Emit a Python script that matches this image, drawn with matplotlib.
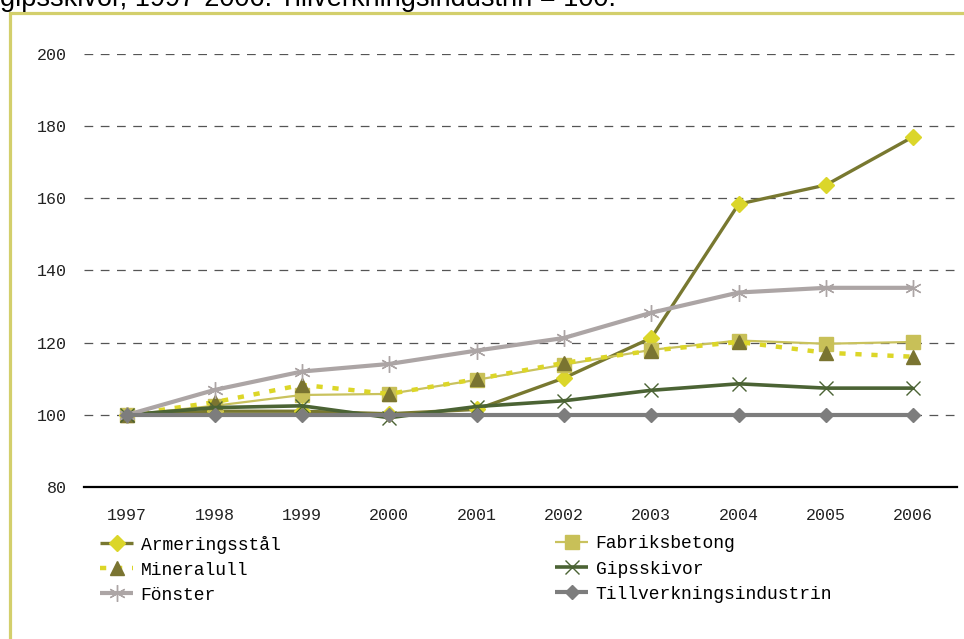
import matplotlib
matplotlib.use("Agg")
import matplotlib.pyplot as plt
from matplotlib.patches import Rectangle

years = ["1997", "1998", "1999", "2000", "2001", "2002", "2003", "2004", "2005", "2006"]
armeringsstal = [100, 101, 101, 100.3, 101.5, 110.2, 121.3, 158.4, 163.7, 177.1]
fabriksbetong = [100, 102.5, 105.5, 105.8, 109.7, 113.9, 118.0, 120.6, 119.7, 120.2]
mineralull = [100, 103.5, 108.3, 105.8, 109.9, 114.4, 117.8, 120.2, 117.2, 116.1]
gipsskivor = [100, 102.0, 102.5, 99.2, 102.3, 103.9, 106.8, 108.6, 107.4, 107.4]
fonster = [100, 106.9, 112.0, 114.1, 117.8, 121.3, 128.3, 133.9, 135.2, 135.2]
tillverkning = [100, 100, 100, 100, 100, 100, 100, 100, 100, 100]
yticks = [80, 100, 120, 140, 160, 180, 200]
title = "gipsskivor, 1997-2006. Tillverkningsindustrin = 100."

W, H = 964, 639
fig = plt.figure(figsize=(W / 100, H / 100), dpi=100)
fig.patch.set_facecolor("white")

# frame border (top and left edges)
fig.patches.append(Rectangle((9.5 / W, -0.2), 1.5, 1.2 - 12.5 / H,
                             transform=fig.transFigure, fill=False,
                             edgecolor="#d3cf6c", lw=2.3, zorder=0))

fig.text(0.0, 1 - 6.5 / H, title, fontsize=19.5, family="Liberation Sans",
         va="baseline", ha="left", color="black")

ax = fig.add_axes([83.5 / W, 1 - 487 / H, (957 - 83.5) / W, (487 - 54) / H])
x = list(range(len(years)))

mono = "Liberation Mono"
series = [
    dict(y=armeringsstal, label="Armeringsstål", color="#787830", lw=2.4,
         marker="D", ms=8, mfc="#dbd62a", mec="#dbd62a", ls="-"),
    dict(y=fabriksbetong, label="Fabriksbetong", color="#c9c25e", lw=1.6,
         marker="s", ms=9.5, mfc="#c8c058", mec="#c8c058", ls="-"),
    dict(y=mineralull, label="Mineralull", color="#dcd628", lw=3.2,
         marker="^", ms=10.5, mfc="#7a7431", mec="#7a7431", ls=(0, (1.4, 2.2))),
    dict(y=gipsskivor, label="Gipsskivor", color="#4b6334", lw=2.6,
         marker="x", ms=10, mfc="#4b6334", mec="#4b6334", ls="-", mew=1.0),
    dict(y=fonster, label="Fönster", color="#aca5a5", lw=3.0,
         marker=(6, 2, 0), ms=12, mfc="#aca5a5", mec="#aca5a5", ls="-", mew=1.0),
    dict(y=tillverkning, label="Tillverkningsindustrin", color="#7d7d7d", lw=3.0,
         marker="D", ms=7.5, mfc="#7d7d7d", mec="#7d7d7d", ls="-"),
]

handles = {}
for i, s in enumerate(series):
    (h,) = ax.plot(x, s["y"], color=s["color"], lw=s["lw"], ls=s["ls"],
                   marker=s["marker"], ms=s["ms"], mfc=s["mfc"], mec=s["mec"],
                   mew=s.get("mew", 1.0), label=s["label"], zorder=3 + i,
                   solid_capstyle="butt", dash_capstyle="butt")
    handles[s["label"]] = h

ax.set_xlim(-0.5, len(years) - 0.5)
ax.set_ylim(80, 200)
ax.set_yticks(yticks)
ax.set_yticklabels([str(v) for v in yticks], family=mono, fontsize=12)
ax.set_xticks(x)
ax.set_xticklabels(years, family=mono, fontsize=12)
for v in yticks[1:]:
    ax.axhline(v, color="#555555", lw=0.9, ls=(0, (7, 6)), zorder=1)
for sp in ["top", "right", "left"]:
    ax.spines[sp].set_visible(False)
ax.spines["bottom"].set_color("black")
ax.spines["bottom"].set_linewidth(1.6)
ax.tick_params(axis="both", length=0, colors="#222222")
ax.tick_params(axis="y", pad=12)
ax.tick_params(axis="x", pad=15)

left_labels = ["Armeringsstål", "Mineralull", "Fönster"]
right_labels = ["Fabriksbetong", "Gipsskivor", "Tillverkningsindustrin"]
common = dict(frameon=False, prop={"family": mono, "size": 13},
              handlelength=1.85, handletextpad=0.4, labelspacing=0.45,
              borderaxespad=0, borderpad=0, loc="upper left")
fig.legend([handles[l] for l in left_labels], left_labels,
           bbox_to_anchor=(100 / W, 1 - 535.5 / H), **common)
fig.legend([handles[l] for l in right_labels], right_labels,
           bbox_to_anchor=(555 / W, 1 - 535.5 / H), **common)

fig.savefig("out.png", dpi=100, facecolor="white")
